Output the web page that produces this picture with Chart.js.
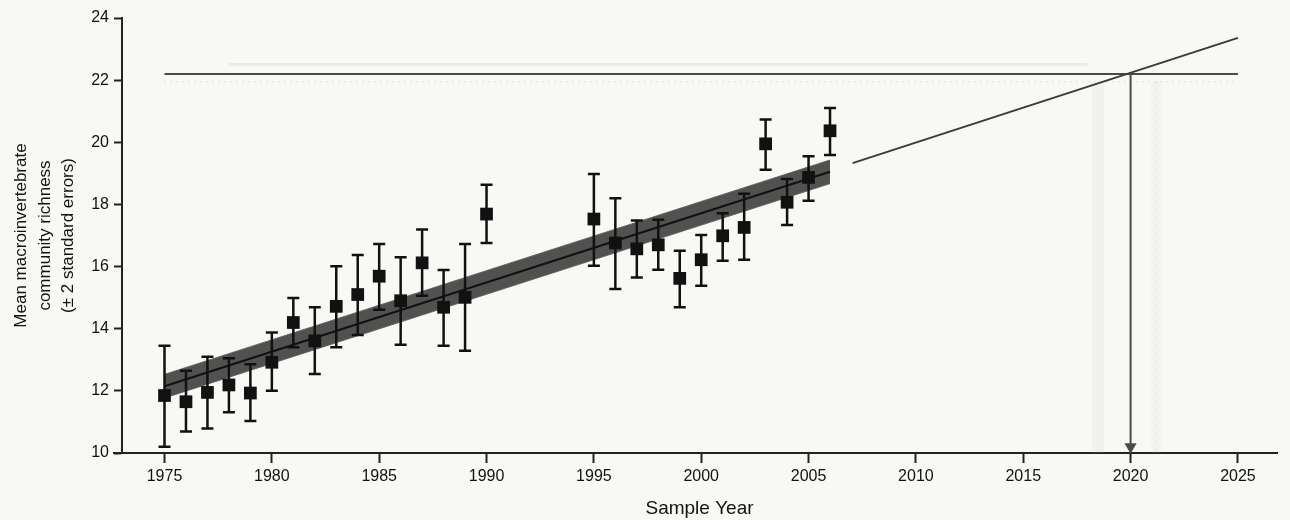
<!DOCTYPE html>
<html>
<head>
<meta charset="utf-8">
<script src="https://cdn.jsdelivr.net/npm/chart.js@4/dist/chart.umd.min.js"></script>
<style>
  html, body { margin: 0; padding: 0; background: #f8f8f5; }
  canvas { display: block; }
</style>
</head>
<body>
<canvas id="richChart" width="1290" height="520"></canvas>
<script>
// sampled years and mean richness (+/- 2 SE)
const years = [1975, 1976, 1977, 1978, 1979, 1980, 1981, 1982, 1983, 1984, 1985, 1986, 1987, 1988, 1989, 1990,
               1995, 1996, 1997, 1998, 1999, 2000, 2001, 2002, 2003, 2004, 2005, 2006];
const means = [11.85, 11.65, 11.95, 12.19, 11.93, 12.92, 14.2, 13.61, 14.72, 15.1, 15.69, 14.9, 16.12, 14.69, 15.01, 17.69,
               17.53, 16.76, 16.57, 16.7, 15.62, 16.22, 16.99, 17.26, 19.95, 18.07, 18.87, 20.37];
const upperSE = [13.45, 12.65, 13.1, 13.05, 12.86, 13.88, 14.99, 14.69, 16.01, 16.37, 16.73, 16.3, 17.19, 15.89, 16.73, 18.63,
                 18.98, 18.2, 17.48, 17.51, 16.51, 17.02, 17.72, 18.34, 20.73, 18.82, 19.55, 21.1];
const lowerSE = [10.2, 10.69, 10.79, 11.31, 11.03, 12.0, 13.4, 12.54, 13.4, 13.8, 14.61, 13.48, 15.06, 13.45, 13.29, 16.76,
                 16.03, 15.28, 15.65, 15.9, 14.69, 15.38, 16.19, 16.22, 19.12, 17.34, 18.12, 19.59];

// regression fit and its band
const fitYears = [1975, 2006];
const fitLine = [12.15, 19.05];
const fitUpper = [12.53, 19.43];
const fitLower = [11.77, 18.67];

// projection to target
const projYears = [2007.05, 2025];
const projLine = [19.33, 23.36];
const targetYears = [1975, 2025];
const targetValue = [22.2, 22.2];
const arrowYears = [2020, 2020];
const arrowValues = [22.2, 10.2];

// faint guide lines (upper / lower limits)
const guideTopYears = [1978, 2018];
const guideTopValue = [22.5, 22.5];
const guideLowYears = [1975, 2025];
const guideLowValue = [21.95, 21.95];
const limitLeftYears = [2018.5, 2018.5];
const limitRightYears = [2021.2, 2021.2];
const limitValues = [21.95, 10];

const xTicks = [1975, 1980, 1985, 1990, 1995, 2000, 2005, 2010, 2015, 2020, 2025];
const yTicks = [10, 12, 14, 16, 18, 20, 22, 24];

const pts = (xs, ys) => xs.map((x, i) => ({ x: x, y: ys[i] }));

// error bars drawn under the square markers
const errorBars = {
  id: 'errorBars',
  beforeDatasetDraw(chart, args) {
    if (args.index !== 0) return;
    const { ctx, scales: { x, y } } = chart;
    ctx.save();
    ctx.strokeStyle = '#111';
    ctx.lineWidth = 2.5;
    years.forEach((yr, i) => {
      const px = x.getPixelForValue(yr);
      const top = y.getPixelForValue(upperSE[i]);
      const bot = y.getPixelForValue(lowerSE[i]);
      ctx.beginPath();
      ctx.moveTo(px, top); ctx.lineTo(px, bot);
      ctx.moveTo(px - 6, top); ctx.lineTo(px + 6, top);
      ctx.moveTo(px - 6, bot); ctx.lineTo(px + 6, bot);
      ctx.stroke();
    });
    ctx.restore();
  }
};

// x axis line runs a little past the y axis on the left
const axisStub = {
  id: 'axisStub',
  afterDraw(chart) {
    const { ctx, chartArea } = chart;
    ctx.save();
    ctx.strokeStyle = '#222';
    ctx.lineWidth = 2;
    ctx.beginPath();
    ctx.moveTo(chartArea.left - 9, chartArea.bottom);
    ctx.lineTo(chartArea.left, chartArea.bottom);
    ctx.stroke();
    ctx.restore();
  }
};

const tickFont = { family: "'Liberation Sans', Arial, sans-serif", size: 16 };

function guide(label, xs, ys, color, width, dash) {
  return {
    label: label,
    data: pts(xs, ys),
    showLine: true,
    borderColor: color,
    borderWidth: width,
    borderDash: dash || [],
    pointRadius: 0
  };
}

new Chart(document.getElementById('richChart'), {
  type: 'scatter',
  data: {
    datasets: [
      {
        label: 'Mean richness',
        data: pts(years, means),
        pointStyle: 'rect',
        pointRadius: 9,
        backgroundColor: '#111',
        borderColor: '#111',
        borderWidth: 0,
        showLine: false
      },
      {
        label: 'Fit',
        data: pts(fitYears, fitLine),
        showLine: true,
        borderColor: '#111',
        borderWidth: 2,
        pointRadius: 0
      },
      {
        label: 'Fit upper',
        data: pts(fitYears, fitUpper),
        showLine: true,
        borderColor: 'rgba(90,90,90,0.9)',
        borderWidth: 1,
        pointRadius: 0,
        fill: false
      },
      {
        label: 'Fit lower',
        data: pts(fitYears, fitLower),
        showLine: true,
        borderColor: 'rgba(90,90,90,0.9)',
        borderWidth: 1,
        pointRadius: 0,
        fill: '-1',
        backgroundColor: 'rgba(62,62,62,0.9)'
      },
      guide('Projection', projYears, projLine, '#3a3a3a', 2),
      guide('Target', targetYears, targetValue, '#4a4a4a', 2),
      {
        label: 'Arrow',
        data: pts(arrowYears, arrowValues),
        showLine: true,
        borderColor: '#4a4a4a',
        borderWidth: 2,
        pointStyle: 'triangle',
        pointRadius: [0, 5],
        pointRotation: 180,
        backgroundColor: '#4a4a4a'
      },
      guide('Upper guide', guideTopYears, guideTopValue, 'rgba(170,170,170,0.18)', 3),
      guide('Lower guide', guideLowYears, guideLowValue, 'rgba(120,120,120,0.4)', 1, [1, 5]),
      guide('Left limit', limitLeftYears, limitValues, 'rgba(120,120,120,0.35)', 1, [1, 7]),
      guide('Right limit', limitRightYears, limitValues, 'rgba(120,120,120,0.35)', 1, [1, 7]),
      guide('Left shade', limitLeftYears, limitValues, 'rgba(200,200,205,0.12)', 12),
      guide('Right shade', limitRightYears, limitValues, 'rgba(200,200,205,0.1)', 10)
    ]
  },
  options: {
    responsive: false,
    devicePixelRatio: 1,
    animation: false,
    layout: { padding: { top: 18, right: 13, bottom: 0, left: 0 } },
    plugins: {
      legend: { display: false },
      tooltip: { enabled: false }
    },
    scales: {
      x: {
        type: 'linear',
        min: 1973.02,
        max: 2026.82,
        afterBuildTicks: s => { s.ticks = xTicks.map(v => ({ value: v })); },
        afterFit: s => { s.height = 67; },
        ticks: { color: '#111', font: tickFont, padding: 4, callback: v => String(v), maxRotation: 0 },
        grid: { drawOnChartArea: false, drawTicks: true, tickLength: 10, color: '#222', tickWidth: 2 },
        border: { display: true, color: '#222', width: 2 },
        title: {
          display: true,
          text: 'Sample Year',
          color: '#111',
          font: { family: "'Liberation Sans', Arial, sans-serif", size: 19 },
          padding: { top: 0, bottom: 0 }
        }
      },
      y: {
        min: 10,
        max: 24,
        afterBuildTicks: s => { s.ticks = yTicks.map(v => ({ value: v })); },
        afterFit: s => { s.width = 122; },
        ticks: { color: '#111', font: tickFont, padding: 5 },
        grid: { drawOnChartArea: false, drawTicks: true, tickLength: 8, color: '#222', tickWidth: 2 },
        border: { display: true, color: '#222', width: 2 },
        title: {
          display: true,
          text: ['Mean macroinvertebrate', 'community richness', '(\u00b1 2 standard errors)'],
          color: '#111',
          font: { family: "'Liberation Sans', Arial, sans-serif", size: 17, lineHeight: 1.38 },
          padding: { top: 10, bottom: 0 }
        }
      }
    }
  },
  plugins: [errorBars, axisStub]
});
</script>
</body>
</html>
